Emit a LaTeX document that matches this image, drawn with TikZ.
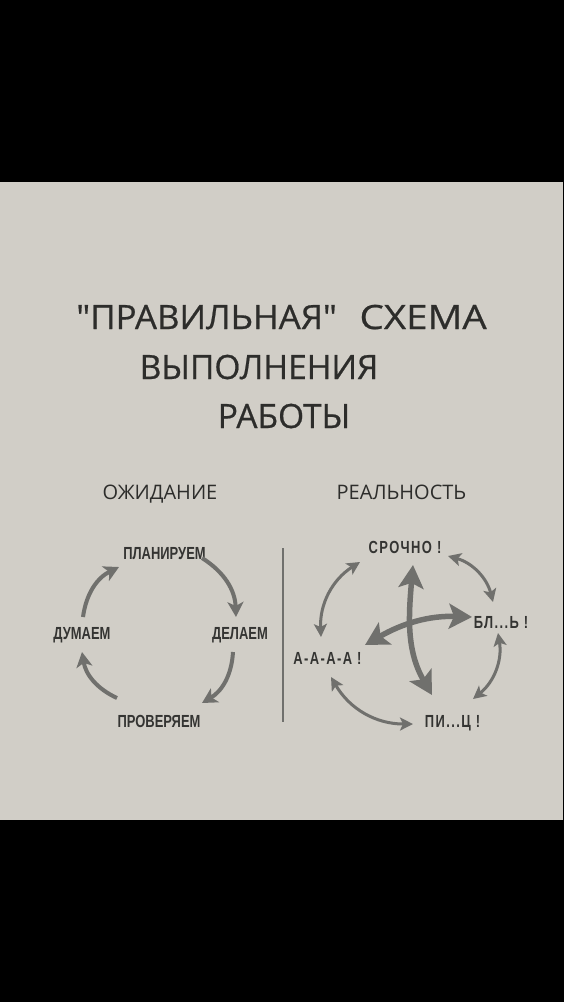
\documentclass[tikz,border=0pt]{standalone}
\usepackage{fontspec}
\setmainfont{Open Sans}[Ligatures=TeXOff]
\newfontfamily\titlefont{Open Sans}[Ligatures=TeXOff,FakeBold=0.6]
\newfontfamily\lblfont{Liberation Sans Bold}[FakeStretch=0.74]
\newfontfamily\lblfontsp{Liberation Sans Bold}[FakeStretch=0.74,LetterSpace=8]
\usetikzlibrary{arrows.meta}
\definecolor{paper}{RGB}{209,206,199}
\definecolor{ink}{RGB}{45,45,43}
\definecolor{lblink}{RGB}{52,52,50}
\definecolor{arrowgray}{RGB}{112,112,109}
\tikzset{
  title/.style={anchor=base, inner sep=0pt, text=ink, font=\titlefont\fontsize{33.5}{40}\selectfont},
  subtitle/.style={anchor=base, inner sep=0pt, text=ink, font=\fontsize{20}{24}\selectfont},
  lbl/.style={anchor=base, inner sep=0pt, text=lblink, font=\lblfont\fontsize{17.5}{20}\selectfont},
  rlbl/.style={anchor=base, inner sep=0pt, text=lblink, font=\lblfontsp\fontsize{17.5}{20}\selectfont},
  cyclearrow/.style={draw=arrowgray, line width=4pt, -{Stealth[length=15pt,width=16pt,inset=4pt]}},
  outerarrow/.style={draw=arrowgray, line width=3pt, {Stealth[length=13pt,width=13pt,inset=3pt]}-{Stealth[length=13pt,width=13pt,inset=3pt]}},
  crossarrow/.style={draw=arrowgray, line width=5.5pt, {Stealth[length=23pt,width=25pt,inset=5pt]}-{Stealth[length=23pt,width=25pt,inset=5pt]}},
  divider/.style={draw=arrowgray, line width=1.5pt}
}
\begin{document}
\begin{tikzpicture}[x=1pt,y=1pt]
\useasboundingbox (0,0) rectangle (564,-1002);
\fill[black] (0,0) rectangle (564,-1002);
\fill[paper] (0,-182) rectangle (563,-820);

% title
\node[title] (t1) at (281.5,-329) {{\addfontfeature{FakeStretch=1.04}"ПРАВИЛЬНАЯ"}\hspace{14pt} {\addfontfeature{FakeStretch=1.15}СХЕМА}};
\node[title] (t2) at (259,-379) {ВЫПОЛНЕНИЯ};
\node[title] (t3) at (284,-428) {РАБОТЫ};

\node[subtitle] (exp) at (160,-499) {ОЖИДАНИЕ};
\node[subtitle] (real) at (401.5,-499) {РЕАЛЬНОСТЬ};

% divider
\coordinate (dtop) at (283,-548);
\coordinate (dbot) at (283,-722);
\draw[divider] (dtop) -- (dbot);

% left cycle labels
\node[lbl] (plan) at (164.5,-559) {ПЛАНИРУЕМ};
\node[lbl] (think) at (82,-639) {ДУМАЕМ};
\node[lbl] (do) at (240,-639) {ДЕЛАЕМ};
\node[lbl] (check) at (159,-727) {ПРОВЕРЯЕМ};

\coordinate (l1s) at (83,-617);  \coordinate (l1e) at (119,-567);
\coordinate (l2s) at (202,-558); \coordinate (l2e) at (236,-617);
\coordinate (l3s) at (233,-652); \coordinate (l3e) at (202,-703);
\coordinate (l4s) at (117,-698); \coordinate (l4e) at (82,-652);
\draw[cyclearrow] (l1s) to[bend left=28] (l1e);
\draw[cyclearrow] (l2s) to[bend left=28] (l2e);
\draw[cyclearrow] (l3s) to[bend left=28] (l3e);
\draw[cyclearrow] (l4s) to[bend left=28] (l4e);

% right labels
\node[rlbl] (urgent) at (405,-553) {СРОЧНО !};
\node[rlbl] (bl) at (501,-628) {БЛ...Ь !};
\node[rlbl] (aaaa) at (327.5,-664) {А-А-А-А !};
\node[rlbl] (pi) at (452.5,-727) {ПИ...Ц !};

\coordinate (r1a) at (448,-556); \coordinate (r1b) at (493,-602);
\coordinate (r2a) at (498,-633); \coordinate (r2b) at (473,-699);
\coordinate (r3a) at (413,-724); \coordinate (r3b) at (331,-677);
\coordinate (r4a) at (321,-637); \coordinate (r4b) at (360,-562);
\draw[outerarrow] (r1a) to[bend left=30] (r1b);
\draw[outerarrow] (r2a) to[bend left=30] (r2b);
\draw[outerarrow] (r3a) to[bend left=30] (r3b);
\draw[outerarrow] (r4a) to[bend left=30] (r4b);

\coordinate (vtop) at (413,-565); \coordinate (vbot) at (432,-695);
\coordinate (hright) at (472,-617); \coordinate (hleft) at (365,-645);
\draw[crossarrow] (vtop) to[out=-95,in=120] (vbot);
\draw[crossarrow] (hright) to[out=178,in=30] (hleft);
\end{tikzpicture}
\end{document}
